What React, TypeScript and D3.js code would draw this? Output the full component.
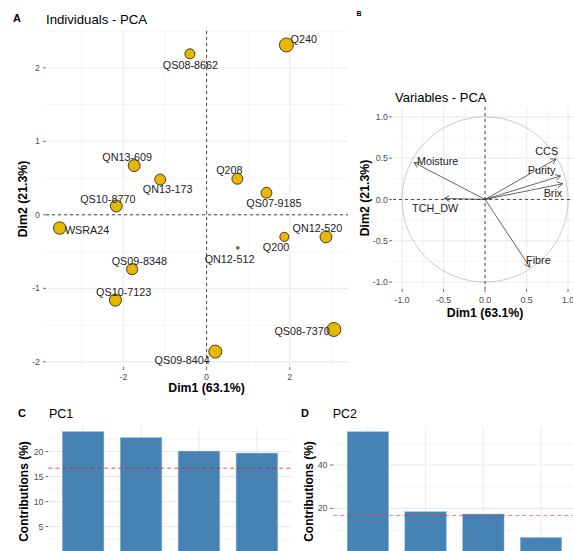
import React from "react";
import * as d3 from "d3";

// ---------- data ----------
const individuals = ["Q240", "QS08-8662", "QN13-609", "QN13-173", "QS10-8770", "WSRA24", "QS09-8348", "QS10-7123", "QS09-8404", "QS08-7370", "Q208", "QS07-9185", "QN12-520", "Q200", "QN12-512"];
const indDim1 = [1.92, -0.4, -1.74, -1.115, -2.17, -3.53, -1.79, -2.19, 0.21, 3.06, 0.74, 1.44, 2.87, 1.87, 0.75];
const indDim2 = [2.31, 2.19, 0.67, 0.48, 0.12, -0.18, -0.74, -1.16, -1.86, -1.56, 0.49, 0.3, -0.3, -0.3, -0.45];
const indCos2 = [0.85, 0.44, 0.62, 0.52, 0.62, 0.68, 0.54, 0.64, 0.74, 0.85, 0.52, 0.52, 0.62, 0.36, 0.03];
// label placement (repel offsets, px)
const indLabelDx = [17.3, 0.5, -7, 7.5, -8.5, 27.4, 7.2, 8.2, -33.1, -31.8, -8, 7.5, -8.5, -8.3, -8.2];
const indLabelDy = [-5.7, 11.7, -8, 10, -7, 1.7, -7.6, -7.7, 8.3, 1.4, -8.3, 10, -8.4, 10.4, 11];

const variables = ["CCS", "Purity", "Brix", "Moisture", "TCH_DW", "Fibre"];
const varDim1 = [0.855, 0.91, 0.935, -0.855, -0.49, 0.54];
const varDim2 = [0.49, 0.285, 0.19, 0.446, 0.012, -0.82];
const varLabelDx = [-9.3, -19, -9.7, 23.5, -9.3, 8.5];
const varLabelDy = [-8, -6, 9.3, -1, 9.6, -6.6];

const pc1Vars = ["Brix", "Purity", "CCS", "Moisture"];
const pc1Contrib = [24.0, 22.8, 20.1, 19.7];
const pc2Vars = ["Fibre", "CCS", "Moisture", "Purity"];
const pc2Contrib = [55.4, 18.5, 17.4, 6.6];
const expectedContrib = 16.67;

const dim1Title = "Dim1 (63.1%)";
const dim2Title = "Dim2 (21.3%)";
const xTicksA = [-2, 0, 2];
const yTicksA = [-2, -1, 0, 1, 2];
const xMinorA = [-3, -1, 1, 3];
const yMinorA = [-1.5, -0.5, 0.5, 1.5, 2.5];
const ticksB = [-1, -0.5, 0, 0.5, 1];
const minorB = [-0.75, -0.25, 0.25, 0.75];
const yTicksC = [0, 5, 10, 15, 20];
const yMinorC = [2.5, 7.5, 12.5, 17.5, 22.5];
const yTicksD = [0, 20, 40];
const yMinorD = [10, 30, 50];

const FONT = "'Liberation Sans', Arial, sans-serif";
const GRID = "#EBEBEB";
const TICKC = "#4D4D4D";
const GOLD = "#E7B800";
const BAR = "#4682B4";

function fmt1(v: number) {
  return v.toFixed(1);
}

function App() {
  const W = 573, H = 551;

  // Panel A scales
  const xA = d3.scaleLinear().domain([-3.86, 3.4]).range([46, 348]);
  const yA = d3.scaleLinear().domain([-2.07, 2.5]).range([367, 31]);
  const rA = d3.scaleSqrt().domain([0, 1]).range([0, 7.6]);

  // Panel B scales
  const xB = d3.scaleLinear().domain([-1.11, 1.06]).range([393, 573]);
  const yB = d3.scaleLinear().domain([-1.085, 1.12]).range([289, 107]);

  // Panel C
  const xC = d3.scaleBand().domain(pc1Vars).range([48.3, 291.7]).paddingInner(0.28).paddingOuter(0.24);
  const yC = d3.scaleLinear().domain([0, 25.1]).range([551.7, 426]);
  // Panel D
  const xD = d3.scaleBand().domain(pc2Vars).range([333.3, 575.6]).paddingInner(0.28).paddingOuter(0.24);
  const yD = d3.scaleLinear().domain([0, 58]).range([551.7, 426]);

  const arrowHead = (x1: number, y1: number, x2: number, y2: number) => {
    const ang = Math.atan2(y2 - y1, x2 - x1);
    const L = 6, a = Math.PI / 6;
    const p1 = [x2 - L * Math.cos(ang - a), y2 - L * Math.sin(ang - a)];
    const p2 = [x2 - L * Math.cos(ang + a), y2 - L * Math.sin(ang + a)];
    return `M${p1[0]},${p1[1]}L${x2},${y2}L${p2[0]},${p2[1]}`;
  };

  const circlePath = d3.line<number>()
    .x((t) => xB(Math.cos(t)))
    .y((t) => yB(Math.sin(t)));
  const circleT = d3.range(0, 2 * Math.PI + 0.01, Math.PI / 90);

  return (
    <svg width={W} height={H} style={{ position: "absolute", left: 0, top: 0, background: "#fff" }} fontFamily={FONT}>
      <rect x={0} y={0} width={W} height={H} fill="#fff" />
      {/* ================= Panel A ================= */}
      <g>
        {xMinorA.map((v) => (
          <line key={"axm" + v} x1={xA(v)} x2={xA(v)} y1={yA.range()[1]} y2={yA.range()[0]} stroke={GRID} strokeWidth={0.55} />
        ))}
        {yMinorA.map((v) => (
          <line key={"aym" + v} x1={xA.range()[0]} x2={xA.range()[1]} y1={yA(v)} y2={yA(v)} stroke={GRID} strokeWidth={0.55} />
        ))}
        {xTicksA.map((v) => (
          <line key={"axg" + v} x1={xA(v)} x2={xA(v)} y1={yA.range()[1]} y2={yA.range()[0]} stroke={GRID} strokeWidth={1.1} />
        ))}
        {yTicksA.map((v) => (
          <line key={"ayg" + v} x1={xA.range()[0]} x2={xA.range()[1]} y1={yA(v)} y2={yA(v)} stroke={GRID} strokeWidth={1.1} />
        ))}
        <line x1={xA(0)} x2={xA(0)} y1={yA.range()[1]} y2={yA.range()[0]} stroke="#333" strokeWidth={0.9} strokeDasharray="3,3" />
        <line x1={xA.range()[0]} x2={xA.range()[1]} y1={yA(0)} y2={yA(0)} stroke="#333" strokeWidth={0.9} strokeDasharray="3,3" />
        {individuals.map((name, i) => (
          <circle key={"pt" + name} cx={xA(indDim1[i])} cy={yA(indDim2[i])} r={rA(indCos2[i])} fill={GOLD} stroke="#000" strokeWidth={0.7} />
        ))}
        {individuals.map((name, i) => (
          <text key={"lb" + name} x={xA(indDim1[i]) + indLabelDx[i]} y={yA(indDim2[i]) + indLabelDy[i]} dy="0.35em" textAnchor="middle" fontSize={10.8} fill="#222">
            {name}
          </text>
        ))}
        {/* axes */}
        {yTicksA.map((v) => (
          <g key={"ayt" + v}>
            <line x1={43} x2={46} y1={yA(v)} y2={yA(v)} stroke="#333" strokeWidth={0.7} />
            <text x={40} y={yA(v)} dy="0.35em" textAnchor="end" fontSize={8.8} fill={TICKC}>{v}</text>
          </g>
        ))}
        {xTicksA.map((v) => (
          <g key={"axt" + v}>
            <line x1={xA(v)} x2={xA(v)} y1={367} y2={370} stroke="#333" strokeWidth={0.7} />
            <text x={xA(v)} y={376.5} dy="0.35em" textAnchor="middle" fontSize={8.8} fill={TICKC}>{v}</text>
          </g>
        ))}
        <text x={xA(0)} y={388} dy="0.35em" textAnchor="middle" fontSize={12.3} fontWeight="bold" fill="#000">{dim1Title}</text>
        <text transform={`translate(23,${(31 + 367) / 2}) rotate(-90)`} dy="0.35em" textAnchor="middle" fontSize={12.3} fontWeight="bold" fill="#000">{dim2Title}</text>
        <text x={46} y={19} dy="0.35em" fontSize={13.2} fill="#000">Individuals - PCA</text>
        <text x={17} y={18} dy="0.35em" textAnchor="middle" fontSize={11} fontWeight="bold" fill="#000">A</text>
      </g>

      {/* ================= Panel B ================= */}
      <g>
        {minorB.map((v) => (
          <g key={"bm" + v}>
            <line x1={xB(v)} x2={xB(v)} y1={107} y2={289} stroke={GRID} strokeWidth={0.55} />
            <line x1={393} x2={573} y1={yB(v)} y2={yB(v)} stroke={GRID} strokeWidth={0.55} />
          </g>
        ))}
        {ticksB.map((v) => (
          <g key={"bg" + v}>
            <line x1={xB(v)} x2={xB(v)} y1={107} y2={289} stroke={GRID} strokeWidth={1.1} />
            <line x1={393} x2={573} y1={yB(v)} y2={yB(v)} stroke={GRID} strokeWidth={1.1} />
          </g>
        ))}
        <path d={circlePath(circleT) || ""} fill="none" stroke="#B3B3B3" strokeWidth={0.7} />
        <line x1={xB(0)} x2={xB(0)} y1={107} y2={289} stroke="#333" strokeWidth={0.9} strokeDasharray="3,3" />
        <line x1={393} x2={573} y1={yB(0)} y2={yB(0)} stroke="#333" strokeWidth={0.9} strokeDasharray="3,3" />
        {variables.map((name, i) => {
          const x1 = xB(0), y1 = yB(0), x2 = xB(varDim1[i]), y2 = yB(varDim2[i]);
          return (
            <g key={"ar" + name}>
              <line x1={x1} y1={y1} x2={x2} y2={y2} stroke="#222" strokeWidth={0.7} />
              <path d={arrowHead(x1, y1, x2, y2)} fill="none" stroke="#222" strokeWidth={0.7} />
            </g>
          );
        })}
        {variables.map((name, i) => (
          <text key={"vl" + name} x={xB(varDim1[i]) + varLabelDx[i]} y={yB(varDim2[i]) + varLabelDy[i]} dy="0.35em" textAnchor="middle" fontSize={10.8} fill="#222">
            {name}
          </text>
        ))}
        {ticksB.map((v) => (
          <g key={"bt" + v}>
            <line x1={389} x2={392} y1={yB(v)} y2={yB(v)} stroke="#333" strokeWidth={0.7} />
            <text x={388} y={yB(v)} dy="0.35em" textAnchor="end" fontSize={8.8} fill={TICKC}>{fmt1(v)}</text>
            <line x1={xB(v)} x2={xB(v)} y1={289} y2={292} stroke="#333" strokeWidth={0.7} />
            <text x={xB(v)} y={299.5} dy="0.35em" textAnchor="middle" fontSize={8.8} fill={TICKC}>{fmt1(v)}</text>
          </g>
        ))}
        <text x={xB(0)} y={313} dy="0.35em" textAnchor="middle" fontSize={12.3} fontWeight="bold" fill="#000">{dim1Title}</text>
        <text transform={`translate(365,${(107 + 289) / 2}) rotate(-90)`} dy="0.35em" textAnchor="middle" fontSize={12.3} fontWeight="bold" fill="#000">{dim2Title}</text>
        <text x={395} y={97} dy="0.35em" fontSize={13} fill="#000">Variables - PCA</text>
        <text x={359} y={14} dy="0.35em" textAnchor="middle" fontSize={7} fontWeight="bold" fill="#000">B</text>
      </g>

      {/* ================= Panel C ================= */}
      <g>
        {yMinorC.map((v) => (
          <line key={"cm" + v} x1={48.3} x2={291.7} y1={yC(v)} y2={yC(v)} stroke={GRID} strokeWidth={0.55} />
        ))}
        {yTicksC.map((v) => (
          <line key={"cg" + v} x1={48.3} x2={291.7} y1={yC(v)} y2={yC(v)} stroke={GRID} strokeWidth={1.1} />
        ))}
        {pc1Vars.map((v) => (
          <line key={"cv" + v} x1={(xC(v) || 0) + xC.bandwidth() / 2} x2={(xC(v) || 0) + xC.bandwidth() / 2} y1={426} y2={551.7} stroke={GRID} strokeWidth={1.1} />
        ))}
        {pc1Vars.map((v, i) => (
          <rect key={"cb" + v} x={xC(v)} y={yC(pc1Contrib[i])} width={xC.bandwidth()} height={yC(0) - yC(pc1Contrib[i])} fill={BAR} stroke="#A9C4DC" strokeWidth={0.5} />
        ))}
        <line x1={48.3} x2={291.7} y1={yC(expectedContrib)} y2={yC(expectedContrib)} stroke="#E41A1C" strokeOpacity={0.85} strokeWidth={0.9} strokeDasharray="4,3" />
        {yTicksC.filter((v) => v > 0).map((v) => (
          <g key={"ct" + v}>
            <line x1={45.5} x2={48.3} y1={yC(v)} y2={yC(v)} stroke="#333" strokeWidth={0.7} />
            <text x={43.5} y={yC(v)} dy="0.35em" textAnchor="end" fontSize={8.8} fill={TICKC}>{v}</text>
          </g>
        ))}
        <text transform={`translate(23.3,491.5) rotate(-90)`} dy="0.35em" textAnchor="middle" fontSize={12} fontWeight="bold" fill="#000">Contributions (%)</text>
        <text x={49} y={414} dy="0.35em" fontSize={12.5} fill="#000">PC1</text>
        <text x={22} y={412.7} dy="0.35em" textAnchor="middle" fontSize={11} fontWeight="bold" fill="#000">C</text>
      </g>

      {/* ================= Panel D ================= */}
      <g>
        {yMinorD.map((v) => (
          <line key={"dm" + v} x1={333.3} x2={575.6} y1={yD(v)} y2={yD(v)} stroke={GRID} strokeWidth={0.55} />
        ))}
        {yTicksD.map((v) => (
          <line key={"dg" + v} x1={333.3} x2={575.6} y1={yD(v)} y2={yD(v)} stroke={GRID} strokeWidth={1.1} />
        ))}
        {pc2Vars.map((v) => (
          <line key={"dv" + v} x1={(xD(v) || 0) + xD.bandwidth() / 2} x2={(xD(v) || 0) + xD.bandwidth() / 2} y1={426.7} y2={551.7} stroke={GRID} strokeWidth={1.1} />
        ))}
        {pc2Vars.map((v, i) => (
          <rect key={"db" + v} x={xD(v)} y={yD(pc2Contrib[i])} width={xD.bandwidth()} height={yD(0) - yD(pc2Contrib[i])} fill={BAR} stroke="#A9C4DC" strokeWidth={0.5} />
        ))}
        <line x1={333.3} x2={575.6} y1={yD(expectedContrib)} y2={yD(expectedContrib)} stroke="#F03B3B" strokeOpacity={0.75} strokeWidth={0.9} strokeDasharray="4,3" />
        {yTicksD.filter((v) => v > 0).map((v) => (
          <g key={"dt" + v}>
            <line x1={330} x2={333.3} y1={yD(v)} y2={yD(v)} stroke="#333" strokeWidth={0.7} />
            <text x={327.5} y={yD(v)} dy="0.35em" textAnchor="end" fontSize={8.8} fill={TICKC}>{v}</text>
          </g>
        ))}
        <text transform={`translate(308.3,491.5) rotate(-90)`} dy="0.35em" textAnchor="middle" fontSize={12} fontWeight="bold" fill="#000">Contributions (%)</text>
        <text x={332.7} y={413.3} dy="0.35em" fontSize={12.5} fill="#000">PC2</text>
        <text x={305} y={412.7} dy="0.35em" textAnchor="middle" fontSize={11} fontWeight="bold" fill="#000">D</text>
      </g>
    </svg>
  );
}

export default App;
